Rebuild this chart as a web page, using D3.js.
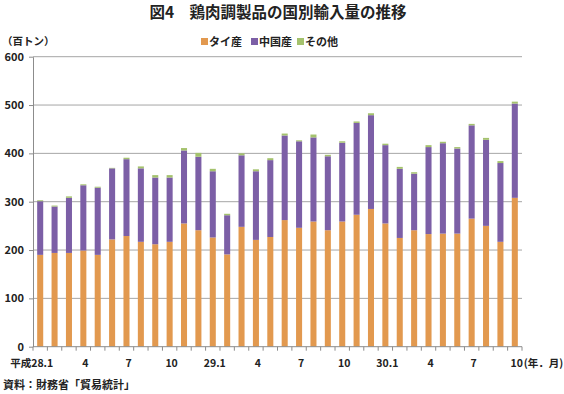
<!DOCTYPE html>
<html>
<head>
<meta charset="utf-8">
<script src="https://cdn.jsdelivr.net/npm/d3@7"></script>
<style>
  html, body { margin: 0; padding: 0; background: #fff; }
  svg { display: block; font-family: "Noto Sans CJK JP", "Noto Sans", sans-serif; }
</style>
</head>
<body>
<svg id="chart" width="564" height="394"></svg>
<script>
// ---- data (百トン) ----
const months = [
  "28.1","28.2","28.3","28.4","28.5","28.6","28.7","28.8","28.9","28.10","28.11","28.12",
  "29.1","29.2","29.3","29.4","29.5","29.6","29.7","29.8","29.9","29.10","29.11","29.12",
  "30.1","30.2","30.3","30.4","30.5","30.6","30.7","30.8","30.9","30.10"
];
const thai = [190,194,194,199,190,222,229,217,212,217,255,241,
              226,191,248,221,227,262,246,259,241,259,273,285,
              255,225,241,233,234,234,265,250,217,308];
const china = [111,96,114,135,139,147,159,152,138,133,151,152,
               137,81,148,142,159,175,179,174,153,163,190,194,
               162,143,117,180,187,176,193,178,163,195];
const other = [2,2,3,2,2,1,3,4,5,5,5,8,
               5,3,4,4,4,4,2,6,3,3,3,4,
               3,4,3,4,3,3,3,4,4,4];
const seriesNames = ["タイ産","中国産","その他"];
const seriesColors = ["#E2994F","#7C5FA6","#A4C26D"];
const yTicks = [0,100,200,300,400,500,600];
const tickLabelIdx = [0,3,6,9,12,15,18,21,24,27,30,33];
const tickLabels = ["28.1","4","7","10","29.1","4","7","10","30.1","4","7","10"];

(function () {
// ---- layout ----
const svg = d3.select("#chart");
const pLeft = 33, pRight = 522, pTop = 56.7, pBottom = 346.7;

const x = d3.scaleBand().domain(months).range([pLeft, pRight]).paddingInner(0.58).paddingOuter(0.29);
const y = d3.scaleLinear().domain([0, 600]).range([pBottom, pTop]);

const table = months.map((m, i) => ({ month: m, "タイ産": thai[i], "中国産": china[i], "その他": other[i] }));
const stack = d3.stack().keys(seriesNames)(table);
const color = d3.scaleOrdinal().domain(seriesNames).range(seriesColors);

// title
svg.append("text").attr("x", 278).attr("y", 18).attr("text-anchor", "middle")
  .attr("font-size", 15.5).attr("font-weight", "bold").attr("fill", "#222")
  .text("図4　鶏肉調製品の国別輸入量の推移");

// unit label
svg.append("text").attr("x", 2).attr("y", 45).attr("font-size", 10.5).attr("font-weight", "bold")
  .attr("fill", "#222").text("（百トン）");

// grid lines
svg.append("g").selectAll("line").data(yTicks.filter(d => d > 0)).join("line")
  .attr("x1", pLeft).attr("x2", pRight)
  .attr("y1", d => y(d)).attr("y2", d => y(d))
  .attr("stroke", "#A6A6A6").attr("stroke-width", 1);

// bars
svg.append("g").selectAll("g").data(stack).join("g")
  .attr("fill", d => color(d.key))
  .selectAll("rect").data(d => d).join("rect")
  .attr("x", d => x(d.data.month))
  .attr("width", x.bandwidth())
  .attr("y", d => y(d[1]))
  .attr("height", d => y(d[0]) - y(d[1]));

// y axis
const yAxis = svg.append("g").attr("transform", `translate(${pLeft},0)`)
  .call(d3.axisLeft(y).tickValues(yTicks).tickSize(4).tickPadding(5).tickSizeOuter(0));
yAxis.select(".domain").attr("stroke", "#8C8C8C");
yAxis.selectAll(".tick line").attr("stroke", "#8C8C8C");
yAxis.selectAll(".tick text").attr("font-size", 11).attr("font-weight", "bold")
  .attr("fill", "#222").attr("font-family", "Noto Sans CJK JP");

// x axis line + tick marks at band boundaries
const xg = svg.append("g");
xg.append("line").attr("x1", pLeft).attr("x2", pRight).attr("y1", pBottom).attr("y2", pBottom)
  .attr("stroke", "#8C8C8C");
const bounds = months.map(m => x(m) - (x.step() - x.bandwidth()) / 2).concat([pRight]);
xg.selectAll("line.tk").data(bounds).join("line").attr("class", "tk")
  .attr("x1", d => d).attr("x2", d => d).attr("y1", pBottom).attr("y2", pBottom + 4)
  .attr("stroke", "#8C8C8C");
const labelY = 367;
xg.selectAll("text.lbl").data(tickLabelIdx).join("text").attr("class", "lbl")
  .attr("x", (d) => x(months[d]) + x.bandwidth() / 2 + 2)
  .attr("y", labelY).attr("text-anchor", "middle")
  .attr("font-size", 10.5).attr("font-weight", "bold").attr("fill", "#222")
  .text((d, i) => tickLabels[i]);
xg.append("text").attr("x", x(months[0]) + x.bandwidth() / 2 - 9).attr("y", labelY)
  .attr("text-anchor", "end").attr("font-size", 10.5).attr("font-weight", "bold").attr("fill", "#222")
  .text("平成");
xg.append("text").attr("x", x(months[33]) + x.bandwidth() / 2 + 9).attr("y", labelY)
  .attr("text-anchor", "start").attr("font-size", 10.5).attr("font-weight", "bold").attr("fill", "#222")
  .text("(年．月)");

// legend
const legendX = [201, 251, 297];
const lg = svg.append("g");
seriesNames.forEach((s, i) => {
  lg.append("rect").attr("x", legendX[i]).attr("y", 38).attr("width", 7).attr("height", 7)
    .attr("fill", seriesColors[i]);
  lg.append("text").attr("x", legendX[i] + 8).attr("y", 46).attr("font-size", 11)
    .attr("font-weight", "bold").attr("fill", "#222").text(s);
});

// source
svg.append("text").attr("x", 3).attr("y", 389).attr("font-size", 11).attr("font-weight", "bold")
  .attr("fill", "#222").text("資料：財務省「貿易統計」");
})();
</script>
</body>
</html>
